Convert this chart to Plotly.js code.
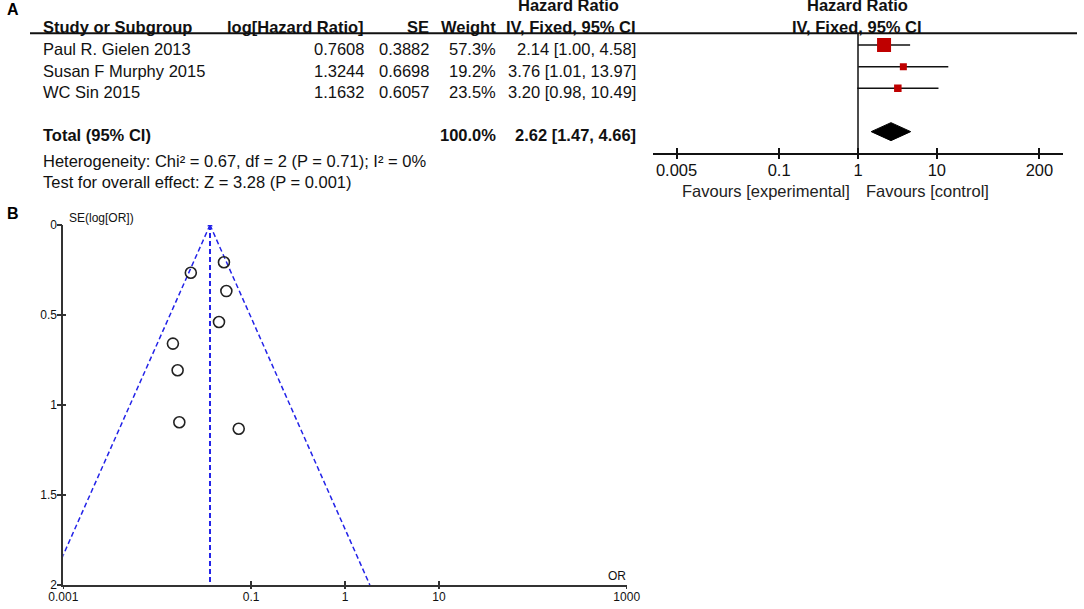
<!DOCTYPE html>
<html>
<head>
<meta charset="utf-8">
<script src="https://cdn.plot.ly/plotly-3.0.1.min.js"></script>
<style>
  html, body { margin: 0; padding: 0; background: #ffffff; }
  #chart { width: 1084px; height: 609px; }
</style>
</head>
<body>
<div id="chart"></div>
<script>
// ---------------- DATA (A: forest plot) ----------------
const studies = ['Paul R. Gielen 2013', 'Susan F Murphy 2015', 'WC Sin 2015'];
const logHR = [0.7608, 1.3244, 1.1632];
const seLogHR = [0.3882, 0.6698, 0.6057];
const weightPct = [57.3, 19.2, 23.5];
const hazardRatio = [2.14, 3.76, 3.20];
const ciLower = [1.00, 1.01, 0.98];
const ciUpper = [4.58, 13.97, 10.49];
const totalLabel = 'Total (95% CI)';
const totalWeight = [100.0];
const totalHR = [2.62];
const totalLower = [1.47];
const totalUpper = [4.66];
const heterogeneityText = 'Heterogeneity: Chi² = 0.67, df = 2 (P = 0.71); I² = 0%';
const overallEffectText = 'Test for overall effect: Z = 3.28 (P = 0.001)';
const forestTickVals = [0.005, 0.1, 1, 10, 200];
const forestTickText = ['0.005', '0.1', '1', '10', '200'];
const nullEffect = [1];
const favoursLeft = 'Favours [experimental]';
const favoursRight = 'Favours [control]';

// ---------------- DATA (B: funnel plot) ----------------
const funnelOR = [0.0228, 0.0514, 0.0545, 0.0455, 0.0147, 0.0165, 0.0172, 0.0738];
const funnelSE = [0.265, 0.207, 0.367, 0.539, 0.659, 0.807, 1.096, 1.132];
const pooledOR = [0.0365, 0.0365];
const funnelSELimits = [0, 2];
const funnelLeftOR = [0.0365, 0.00072];
const funnelRightOR = [0.0365, 1.84];
const funnelTickVals = [0.001, 0.1, 1, 10, 1000];
const funnelTickText = ['0.001', '0.1', '1', '10', '1000'];
const seTickVals = [0, 0.5, 1, 1.5, 2];
const seTickText = ['0', '0.5', '1', '1.5', '2'];

// ---------------- STYLE / LAYOUT CONSTANTS ----------------
const W = 1084, H = 609;
const FONT = '"Liberation Sans", Arial, sans-serif';
const TXT = '#111111';
const px = x => x / W;
const py = y => 1 - y / H;
const rowIndex = studies.map((s, i) => i + 1);
const totalRow = 5;
const squareSizes = [14, 7, 7.5];
const diamondHalf = 0.415;
const FS = 16.5;

const annotations = [];
function ann(text, x, y, xanchor, opts) {
  opts = opts || {};
  annotations.push({
    xref: 'paper', yref: 'paper', x: px(x), y: py(y),
    xanchor: xanchor, yanchor: 'middle', showarrow: false,
    text: opts.bold ? '<b>' + text + '</b>' : text,
    font: { family: FONT, size: opts.size || FS, color: opts.color || TXT },
    borderpad: 0
  });
}

// panel letters
ann('A', 6, 10, 'left', { bold: true, size: 16, color: '#000' });
ann('B', 6, 213.5, 'left', { bold: true, size: 16, color: '#000' });

// forest table headers
const colLog = 365, colSE = 429.5, colW = 497, colHR = 637.5;
ann('Study or Subgroup', 42, 26.5, 'left', { bold: true });
ann('log[Hazard Ratio]', colLog, 26.5, 'right', { bold: true });
ann('SE', colSE, 26.5, 'right', { bold: true });
ann('Weight', colW, 26.5, 'right', { bold: true });
ann('Hazard Ratio', 568, 5, 'center', { bold: true });
ann('IV, Fixed, 95% CI', colHR, 26.5, 'right', { bold: true });
ann('Hazard Ratio', 857, 5, 'center', { bold: true });
ann('IV, Fixed, 95% CI', 857, 26.5, 'center', { bold: true });

const rowTextY = [49.5, 71, 92.5];
studies.forEach((s, i) => {
  const y = rowTextY[i];
  ann(s, 42, y, 'left');
  ann(logHR[i].toFixed(4), colLog, y, 'right');
  ann(seLogHR[i].toFixed(4), colSE, y, 'right');
  ann(weightPct[i].toFixed(1) + '%', colW, y, 'right');
  ann(hazardRatio[i].toFixed(2) + ' [' + ciLower[i].toFixed(2) + ', ' + ciUpper[i].toFixed(2) + ']', colHR, y, 'right');
});
ann(totalLabel, 42, 134.5, 'left', { bold: true });
ann(totalWeight[0].toFixed(1) + '%', colW, 134.5, 'right', { bold: true });
ann(totalHR[0].toFixed(2) + ' [' + totalLower[0].toFixed(2) + ', ' + totalUpper[0].toFixed(2) + ']', colHR, 134.5, 'right', { bold: true });
ann(heterogeneityText, 42, 161, 'left');
ann(overallEffectText, 42, 181.5, 'left');
ann(favoursLeft, 851, 190.5, 'right', { color: '#222' });
ann(favoursRight, 865, 190.5, 'left', { color: '#222' });

// funnel labels
ann('SE(log[OR])', 68, 218, 'left', { size: 12, color: '#111' });
ann('OR', 617, 576, 'center', { size: 12, color: '#111' });

// ---------------- TRACES ----------------
const BLUE = '#2323e8';
const traces = [
  // forest CI lines + squares
  {
    type: 'scatter', mode: 'markers', xaxis: 'x2', yaxis: 'y2',
    x: hazardRatio, y: rowIndex,
    marker: { symbol: 'square', size: squareSizes, color: '#bf0000', opacity: 1, line: { width: 0 } },
    error_x: {
      type: 'data', symmetric: false,
      array: hazardRatio.map((v, i) => ciUpper[i] - v),
      arrayminus: hazardRatio.map((v, i) => v - ciLower[i]),
      color: '#111', thickness: 1.5, width: 0
    },
    hoverinfo: 'skip', showlegend: false
  },
  // total diamond
  {
    type: 'scatter', mode: 'lines', xaxis: 'x2', yaxis: 'y2',
    x: [totalLower[0], totalHR[0], totalUpper[0], totalHR[0], totalLower[0]],
    y: [totalRow, totalRow - diamondHalf, totalRow, totalRow + diamondHalf, totalRow],
    fill: 'toself', fillcolor: '#000000', line: { color: '#000000', width: 1 },
    hoverinfo: 'skip', showlegend: false
  },
  // dummy for forest outer ticks
  { type: 'scatter', mode: 'markers', xaxis: 'x4', yaxis: 'y2', x: [1], y: [3], marker: { opacity: 0 }, hoverinfo: 'skip', showlegend: false },

  // funnel lines
  {
    type: 'scatter', mode: 'lines', xaxis: 'x', yaxis: 'y',
    x: funnelLeftOR, y: funnelSELimits,
    line: { color: BLUE, width: 1.5, dash: '5px,3px' }, hoverinfo: 'skip', showlegend: false
  },
  {
    type: 'scatter', mode: 'lines', xaxis: 'x', yaxis: 'y',
    x: funnelRightOR, y: funnelSELimits,
    line: { color: BLUE, width: 1.5, dash: '5px,3px' }, hoverinfo: 'skip', showlegend: false
  },
  {
    type: 'scatter', mode: 'lines', xaxis: 'x', yaxis: 'y',
    x: pooledOR, y: funnelSELimits,
    line: { color: BLUE, width: 2, dash: '5px,3px' }, hoverinfo: 'skip', showlegend: false
  },
  {
    type: 'scatter', mode: 'markers', xaxis: 'x', yaxis: 'y',
    x: [pooledOR[0]], y: [funnelSELimits[0]],
    marker: { symbol: 'triangle-up', size: 5, color: BLUE }, hoverinfo: 'skip', showlegend: false
  },
  // funnel studies
  {
    type: 'scatter', mode: 'markers', xaxis: 'x', yaxis: 'y',
    x: funnelOR, y: funnelSE,
    marker: { symbol: 'circle-open', size: 11, color: '#222', line: { width: 1.6, color: '#222' } },
    hoverinfo: 'skip', showlegend: false
  },
  // dummies for funnel outer ticks
  { type: 'scatter', mode: 'markers', xaxis: 'x3', yaxis: 'y', x: [1], y: [1], marker: { opacity: 0 }, hoverinfo: 'skip', showlegend: false },
  { type: 'scatter', mode: 'markers', xaxis: 'x', yaxis: 'y3', x: [1], y: [1], marker: { opacity: 0 }, hoverinfo: 'skip', showlegend: false }
];

// ---------------- LAYOUT ----------------
const funnelXDomain = [px(63.3), px(626.7)];
const funnelYDomain = [py(585), py(225)];
const forestXDomain = [px(653), px(1063)];
const forestYDomain = [py(153.3), py(33.3)];
const tickFontSmall = { family: FONT, size: 12, color: '#111' };

const layout = {
  width: W, height: H,
  margin: { l: 0, r: 0, t: 0, b: 0, pad: 0 },
  paper_bgcolor: '#ffffff', plot_bgcolor: 'rgba(0,0,0,0)',
  showlegend: false,
  xaxis: {
    type: 'log', range: [-3, 3], domain: funnelXDomain, anchor: 'y',
    showline: true, linecolor: '#333', linewidth: 2,
    ticks: 'inside', ticklen: 4, tickwidth: 1.5, tickcolor: '#333',
    tickmode: 'array', tickvals: funnelTickVals, ticktext: funnelTickText,
    tickfont: tickFontSmall, ticklabelstandoff: 0, showgrid: false, zeroline: false
  },
  xaxis3: {
    type: 'log', range: [-3, 3], overlaying: 'x', anchor: 'y',
    showline: false, ticks: 'outside', ticklen: 3, tickwidth: 1.5, tickcolor: '#333',
    tickmode: 'array', tickvals: funnelTickVals, showticklabels: false,
    showgrid: false, zeroline: false
  },
  yaxis: {
    range: [2, 0], domain: funnelYDomain, anchor: 'x',
    showline: true, linecolor: '#333', linewidth: 2,
    ticks: 'inside', ticklen: 3, tickwidth: 1.5, tickcolor: '#333',
    tickmode: 'array', tickvals: seTickVals, ticktext: seTickText,
    tickfont: tickFontSmall, ticklabelstandoff: 2, showgrid: false, zeroline: false
  },
  yaxis3: {
    range: [2, 0], overlaying: 'y', anchor: 'x',
    showline: false, ticks: 'outside', ticklen: 5, tickwidth: 1.5, tickcolor: '#333',
    tickmode: 'array', tickvals: seTickVals, showticklabels: false,
    showgrid: false, zeroline: false
  },
  xaxis2: {
    type: 'log', range: [-2.6, 2.6], domain: forestXDomain, anchor: 'y2',
    showline: true, linecolor: '#111', linewidth: 2,
    ticks: 'inside', ticklen: 5, tickwidth: 2, tickcolor: '#111',
    tickmode: 'array', tickvals: forestTickVals, ticktext: forestTickText,
    tickfont: { family: FONT, size: FS, color: TXT }, ticklabelstandoff: 1,
    showgrid: false, zeroline: false
  },
  xaxis4: {
    type: 'log', range: [-2.6, 2.6], overlaying: 'x2', anchor: 'y2',
    showline: false, ticks: 'outside', ticklen: 5, tickwidth: 2, tickcolor: '#111',
    tickmode: 'array', tickvals: forestTickVals, showticklabels: false,
    showgrid: false, zeroline: false
  },
  yaxis2: {
    range: [6.0, 0.46], domain: forestYDomain, anchor: 'x2',
    visible: false, showgrid: false, zeroline: false
  },
  shapes: [
    { type: 'line', xref: 'paper', yref: 'paper', x0: px(30), x1: px(1077), y0: py(33.3), y1: py(33.3),
      line: { color: '#111', width: 2 } },
    { type: 'line', xref: 'x2', yref: 'y2 domain', x0: nullEffect[0], x1: nullEffect[0], y0: 0, y1: 1,
      line: { color: '#111', width: 1.5 } }
  ],
  annotations: annotations
};

Plotly.newPlot('chart', traces, layout, { displayModeBar: false, staticPlot: true });
</script>
</body>
</html>
